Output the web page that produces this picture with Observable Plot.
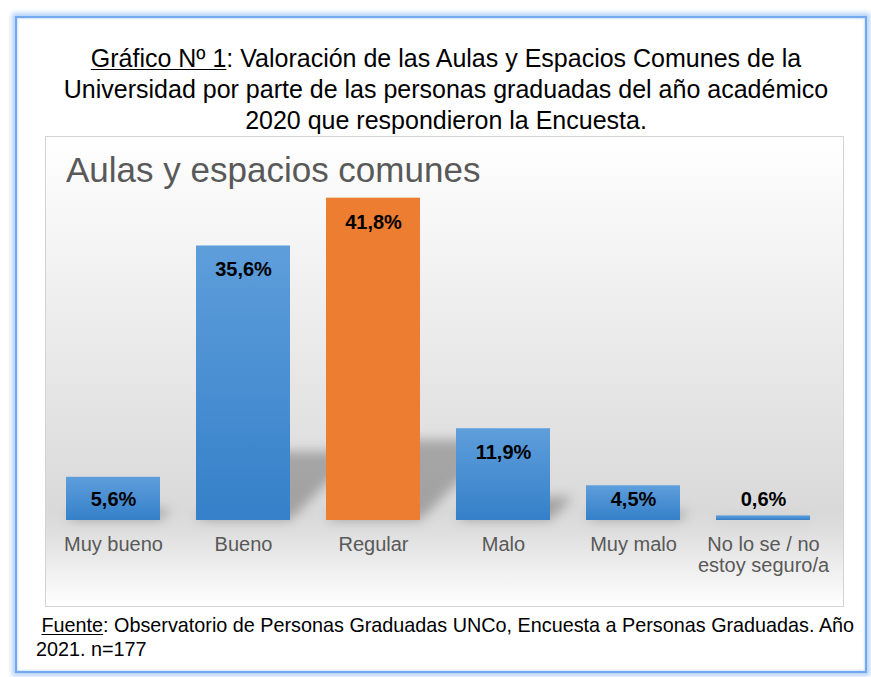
<!DOCTYPE html>
<html>
<head>
<meta charset="utf-8">
<script src="https://cdn.jsdelivr.net/npm/d3@7"></script>
<script src="https://cdn.jsdelivr.net/npm/@observablehq/plot@0.6"></script>
<style>
  html, body { margin: 0; padding: 0; background: #ffffff; }
  body { width: 871px; height: 677px; position: relative; overflow: hidden;
         font-family: "Liberation Sans", Arial, sans-serif; }
  #frame { position: absolute; left: 15px; top: 16px; width: 848px; height: 653px;
           border: 2px solid #74a9ee; box-shadow: 0 0 5px 3px #b3d2f8, inset 0 0 2px 1px #cfe2fb; }
  #title { position: absolute; left: 46px; width: 800px; top: 43px; text-align: center;
           font-size: 25px; line-height: 31px; color: #000; white-space: nowrap; }
  #box { position: absolute; left: 45px; top: 136px; width: 797px; height: 469px;
         border: 1px solid #d3d3d3;
         background: linear-gradient(to bottom, #ffffff 0%, #fdfdfd 4%, #d9d9d9 80%, #dedede 84%, #ffffff 100%); }
  #charttitle { position: absolute; left: 20px; top: 15px; font-size: 35px; line-height: 35px;
                color: #595959; white-space: nowrap; }
  #plot { position: absolute; left: 0; top: 0; }
  #footer { position: absolute; left: 36px; top: 613px; width: 835px; font-size: 19.8px;
            line-height: 24px; color: #000; white-space: nowrap; }
  u { text-decoration-thickness: 1px; text-underline-offset: 2px; }
</style>
</head>
<body>
<div id="frame"></div>
<div id="title"><u>Gráfico Nº 1</u>: Valoración de las Aulas y Espacios Comunes de la<br>Universidad por parte de las personas graduadas del año académico<br>2020 que respondieron la Encuesta.</div>
<div id="box">
  <div id="plot"></div>
  <div id="charttitle">Aulas y espacios comunes</div>
</div>
<div id="footer">&nbsp;<u>Fuente</u>: Observatorio de Personas Graduadas UNCo, Encuesta a Personas Graduadas. Año<br>2021. n=177</div>
<script>
const categorias = ["Muy bueno", "Bueno", "Regular", "Malo", "Muy malo", "No lo se / no estoy seguro/a"];
const porcentajes = [5.6, 35.6, 41.8, 11.9, 4.5, 0.6];
const etiquetas = ["Muy bueno", "Bueno", "Regular", "Malo", "Muy malo", "No lo se / no\nestoy seguro/a"];
const destacada = "Regular";

const datos = categorias.map((c, i) => ({categoria: c, valor: porcentajes[i], etiqueta: etiquetas[i]}));
const fmt = v => v.toFixed(1).replace(".", ",") + "%";

const W = 797, H = 469, MB = 86, MT = 36;
const baseline = H - MB;

const chart = Plot.plot({
  width: W, height: H,
  marginLeft: 0, marginRight: 14, marginTop: MT, marginBottom: MB,
  style: {background: "transparent", fontFamily: "'Liberation Sans', Arial, sans-serif", color: "#595959", overflow: "visible"},
  x: {domain: categorias, paddingInner: 0.28, paddingOuter: 0.14, axis: null, label: null},
  y: {domain: [0, 45], axis: null},
  marks: [
    Plot.barY(datos, {x: "categoria", y: "valor", fill: "#000", fillOpacity: 0.26, className: "sombra"}),
    Plot.barY(datos, {x: "categoria", y: "valor",
      fill: d => d.categoria === destacada ? "#ed7d31" : "#4a8fd3", className: "barras"}),
    Plot.text(datos, {x: "categoria", y: d => Math.max(d.valor, 5.85), dy: 24,
      text: d => fmt(d.valor), fill: "#000", fontWeight: "bold", fontSize: 20}),
    Plot.axisX({tickSize: 0, tickPadding: 16, fontSize: 20, lineHeight: 1.05, label: null,
      tickFormat: d => etiquetas[categorias.indexOf(d)]})
  ]
});

document.getElementById("plot").appendChild(chart);

// gradients and shadow
const svg = d3.select(chart);
const defs = svg.insert("defs", ":first-child");
const g = defs.append("linearGradient").attr("id", "gradAzul").attr("x1", 0).attr("y1", 0).attr("x2", 0).attr("y2", 1);
g.append("stop").attr("offset", "0%").attr("stop-color", "#5e9edb");
g.append("stop").attr("offset", "100%").attr("stop-color", "#3580c9");
const f = defs.append("filter").attr("id", "blurSombra").attr("x", "-50%").attr("y", "-50%").attr("width", "200%").attr("height", "200%");
f.append("feGaussianBlur").attr("stdDeviation", 6);

svg.selectAll("g.barras rect").each(function() {
  const r = d3.select(this);
  if (r.attr("fill") !== "#ed7d31") r.attr("fill", "url(#gradAzul)");
});
const sombra = svg.select("g.sombra");
sombra.attr("transform", `translate(0,${baseline}) skewX(-45) scale(1,0.25) translate(0,${-baseline})`);
const node = sombra.node();
const wrap = document.createElementNS("http://www.w3.org/2000/svg", "g");
wrap.setAttribute("filter", "url(#blurSombra)");
node.parentNode.insertBefore(wrap, node);
wrap.appendChild(node);
</script>
</body>
</html>
